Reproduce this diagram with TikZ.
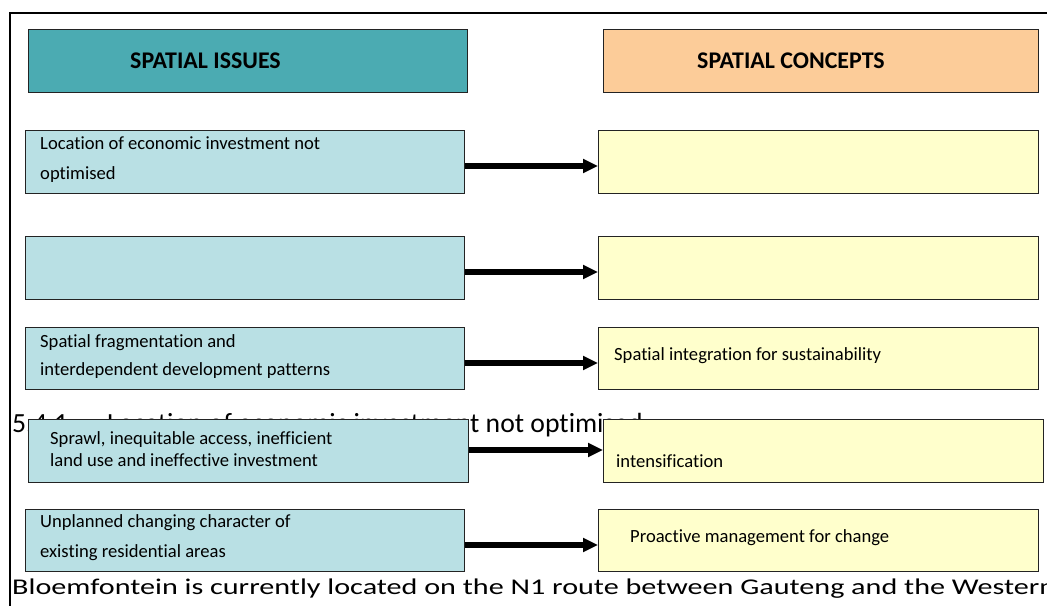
\documentclass[tikz,border=0pt]{standalone}
\usepackage{fontspec}
\setmainfont{Carlito}[Ligatures=NoCommon]
\usetikzlibrary{arrows.meta}
\definecolor{headteal}{RGB}{75,171,178}
\definecolor{headorange}{RGB}{252,204,153}
\definecolor{issueblue}{RGB}{185,224,228}
\definecolor{conceptyellow}{RGB}{255,255,204}
\definecolor{edgegray}{RGB}{35,35,35}
\tikzset{
  boxbase/.style={draw=edgegray, line width=1.1pt, inner sep=0pt, anchor=north west, minimum height=63pt},
  headL/.style={boxbase, fill=headteal, minimum width=439pt},
  headR/.style={boxbase, fill=headorange, minimum width=435pt},
  issue/.style={boxbase, fill=issueblue, minimum width=439pt},
  concept/.style={boxbase, fill=conceptyellow, minimum width=440pt},
  boxtext/.style={inner sep=0pt, anchor=base west, font=\fontsize{18.6}{22}\selectfont},
  headtext/.style={inner sep=0pt, anchor=base west, font=\fontsize{23.9}{28}\selectfont\bfseries},
  pagetext/.style={inner sep=0pt, anchor=base west},
  conn/.style={line width=5.2pt, -{Triangle[length=15pt,width=13.5pt]}},
  frame/.style={line width=1.4pt, draw=black}
}
\begin{document}
\begin{tikzpicture}[x=1pt,y=-1pt]
\useasboundingbox (0,0) rectangle (1047,606);
% page frame
\draw[frame] (1047,13) -- (10,13) -- (10,606);
% background page text
\begin{scope}
\clip (0,0) rectangle (1047,606);
\node[pagetext, font=\fontsize{27.7}{32}\selectfont] (h541) at (12,432) {5.4.1};
\node[pagetext, font=\fontsize{27.7}{32}\selectfont] (hloc) at (107,432) {Location of economic investment not optimised};
\node[pagetext] (bloem) at (12,594) {\scalebox{1.34}[1]{\fontsize{22.5}{26}\selectfont Bloemfontein is currently located on the N1 route between Gauteng and the Western}};
\end{scope}
% headers
\node[headL] (HL) at (28,29) {};
\node[headR] (HR) at (603,29) {};
\node[headtext] (HLt) at (130,68) {SPATIAL ISSUES};
\node[headtext] (HRt) at (697,68) {SPATIAL CONCEPTS};
% row 1
\node[issue] (L1) at (25,130) {};
\node[concept] (R1) at (598,130) {};
\node[boxtext] (L1a) at (40,149) {Location of economic investment not};
\node[boxtext] (L1b) at (40,179) {optimised};
% row 2
\node[issue] (L2) at (25,236) {};
\node[concept] (R2) at (598,236) {};
% row 3
\node[issue, minimum height=62pt] (L3) at (25,327) {};
\node[concept, minimum height=62pt] (R3) at (598,327) {};
\node[boxtext] (L3a) at (40,347) {Spatial fragmentation and};
\node[boxtext] (L3b) at (40,375) {interdependent development patterns};
\node[boxtext] (R3a) at (614,360) {Spatial integration for sustainability};
% row 4
\node[issue, minimum width=440pt] (L4) at (28,419) {};
\node[concept] (R4) at (603,419) {};
\node[boxtext] (L4a) at (50,444) {Sprawl, inequitable access, inefficient};
\node[boxtext] (L4b) at (50,466) {land use and ineffective investment};
\node[boxtext] (R4a) at (616,467) {intensification};
% row 5
\node[issue, minimum height=62pt] (L5) at (25,509) {};
\node[concept, minimum height=62pt] (R5) at (598,509) {};
\node[boxtext] (L5a) at (40,527) {Unplanned changing character of};
\node[boxtext] (L5b) at (40,557) {existing residential areas};
\node[boxtext] (R5a) at (630,542) {Proactive management for change};
% connectors
\draw[conn] (L1.east |- 0,166) -- (R1.west |- 0,166);
\draw[conn] (L2.east |- 0,272) -- (R2.west |- 0,272);
\draw[conn] (L3.east |- 0,363) -- (R3.west |- 0,363);
\draw[conn] (L4.east |- 0,450) -- (R4.west |- 0,450);
\draw[conn] (L5.east |- 0,545) -- (R5.west |- 0,545);
\end{tikzpicture}
\end{document}
